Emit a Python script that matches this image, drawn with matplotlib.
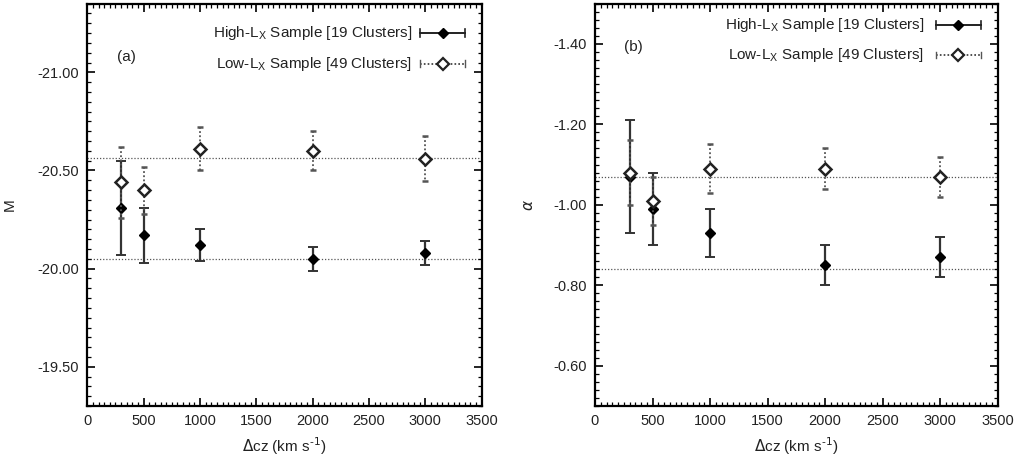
import matplotlib
matplotlib.use("Agg")
import matplotlib.pyplot as plt
from matplotlib.ticker import MultipleLocator, FormatStrFormatter

plt.rcParams['font.family'] = ['Liberation Sans', 'DejaVu Sans']
plt.rcParams['axes.unicode_minus'] = False

# ---- data ----
dcz = [300, 500, 1000, 2000, 3000]

M_high = [-20.31, -20.17, -20.12, -20.05, -20.08]
M_high_err = [0.24, 0.14, 0.08, 0.06, 0.06]
M_low = [-20.44, -20.40, -20.61, -20.60, -20.56]
M_low_err = [0.18, 0.12, 0.11, 0.10, 0.115]
M_ref_lines = [-20.565, -20.05]

a_high = [-1.07, -0.99, -0.93, -0.85, -0.87]
a_high_err = [0.14, 0.09, 0.06, 0.05, 0.05]
a_low = [-1.08, -1.01, -1.09, -1.09, -1.07]
a_low_err = [0.08, 0.06, 0.06, 0.05, 0.05]
a_ref_lines = [-1.07, -0.84]

label_high = 'High-L$_\\mathregular{X}$ Sample [19 Clusters]'
label_low = 'Low-L$_\\mathregular{X}$ Sample [49 Clusters]'
xlabel = '$\\Delta$cz (km s$^{\\text{-1}}$)'

fig = plt.figure(figsize=(10.15, 4.58), dpi=100)
axL = fig.add_axes([0.086, 0.1135, 0.3886, 0.8786])
axR = fig.add_axes([0.5862, 0.1135, 0.3968, 0.8786])

TXT = '#222222'
FS_TICK = 10.5
FS_TXT = 11


def draw_panel(ax, hi, hi_e, lo, lo_e, refs):
    for r in refs:
        ax.axhline(r, color='#555555', lw=0.9, ls=(0, (1, 1.5)), zorder=1)
    # high sample
    ax.errorbar(dcz, hi, yerr=hi_e, fmt='D', color='black', ms=5,
                ecolor='#333333', elinewidth=1.6, capsize=3.5, capthick=1.4,
                zorder=3)
    # low sample
    eb = ax.errorbar(dcz, lo, yerr=lo_e, fmt='D', mfc='white', mec='#222222',
                     mew=1.8, ms=6.5, ecolor='#555555', elinewidth=1.3,
                     capsize=2.5, capthick=1.0, zorder=4)
    eb[2][0].set_linestyle((0, (1, 1.3)))


def style(ax, ylo, yhi, major, fmt):
    ax.set_xlim(0, 3500)
    ax.set_ylim(ylo, yhi)
    ax.xaxis.set_major_locator(MultipleLocator(500))
    ax.xaxis.set_minor_locator(MultipleLocator(50))
    ax.yaxis.set_major_locator(MultipleLocator(major))
    ax.yaxis.set_minor_locator(MultipleLocator(major / 10))
    ax.yaxis.set_major_formatter(FormatStrFormatter(fmt))
    ax.tick_params(which='both', direction='in', top=True, right=True,
                   labelsize=FS_TICK, colors='black', labelcolor=TXT)
    ax.tick_params(which='major', length=6, width=1.2, pad=6)
    ax.tick_params(which='minor', length=3, width=0.9)
    for s in ax.spines.values():
        s.set_linewidth(1.6)
    ax.set_xlabel(xlabel, fontsize=FS_TXT, color=TXT, labelpad=5)


def legend_keys(ax, y1, y2, xt, x0, x1):
    tr = ax.transAxes
    ax.text(xt, y1, label_high, transform=tr, ha='right', va='center',
            fontsize=FS_TXT, color=TXT)
    ax.text(xt, y2, label_low, transform=tr, ha='right', va='center',
            fontsize=FS_TXT, color=TXT)
    xm = (x0 + x1) / 2
    ax.plot([x0, x1], [y1, y1], transform=tr, color='#222222', lw=1.4)
    ax.plot([x0, x0], [y1 - 0.01, y1 + 0.01], transform=tr, color='#222222', lw=1.2)
    ax.plot([x1, x1], [y1 - 0.01, y1 + 0.01], transform=tr, color='#222222', lw=1.2)
    ax.plot([xm], [y1], transform=tr, marker='D', color='black', ms=5)
    ax.plot([x0, x1], [y2, y2], transform=tr, color='#333333', lw=1.2,
            ls=(0, (1, 1.3)))
    ax.plot([x0, x0], [y2 - 0.008, y2 + 0.008], transform=tr, color='#555555', lw=1.0)
    ax.plot([x1, x1], [y2 - 0.008, y2 + 0.008], transform=tr, color='#555555', lw=1.0)
    ax.plot([xm], [y2], transform=tr, marker='D', mfc='white', mec='#222222',
            mew=1.6, ms=6)


# Left panel
draw_panel(axL, M_high, M_high_err, M_low, M_low_err, M_ref_lines)
style(axL, -19.30, -21.35, 0.5, '%.2f')
axL.set_ylabel('M', fontsize=FS_TXT, color=TXT, labelpad=15)
axL.text(0.076, 0.868, '(a)', transform=axL.transAxes, fontsize=FS_TXT,
         color=TXT, ha='left', va='center')
legend_keys(axL, 0.927, 0.851, 0.823, 0.844, 0.958)

# Right panel
draw_panel(axR, a_high, a_high_err, a_low, a_low_err, a_ref_lines)
style(axR, -0.50, -1.50, 0.2, '%.2f')
axR.set_ylabel('$\\alpha$', fontsize=FS_TXT, color=TXT, labelpad=12)
axR.text(0.072, 0.892, '(b)', transform=axR.transAxes, fontsize=FS_TXT,
         color=TXT, ha='left', va='center')
legend_keys(axR, 0.947, 0.872, 0.817, 0.846, 0.958)

fig.savefig('out.png', dpi=100)
